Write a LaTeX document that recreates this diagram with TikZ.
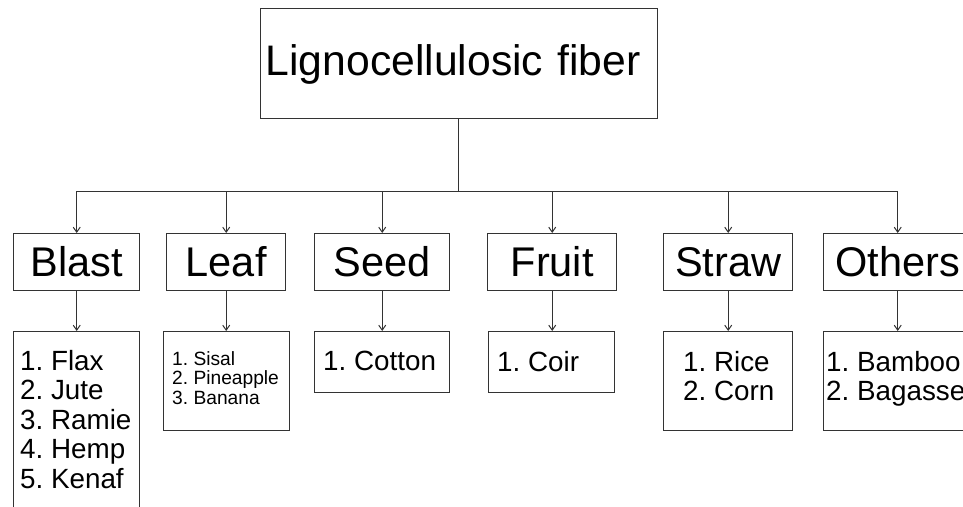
\documentclass[tikz,border=0pt]{standalone}
\usepackage{fontspec}
\setmainfont{Liberation Sans}
\usetikzlibrary{arrows.meta}
\frenchspacing
\definecolor{linegray}{HTML}{333333}
\tikzset{
  x=1pt, y=-1pt,
  box/.style={draw=linegray, line width=1.4pt, rectangle, inner sep=0pt, anchor=north west},
  cattext/.style={font=\fontsize{41.5}{46}\selectfont, text height=28.5pt, text depth=0pt},
  listtext/.style={font=\fontsize{27.8}{29.5}\selectfont, align=left, inner sep=0pt, anchor=north west},
  smalllist/.style={font=\fontsize{19.2}{19.8}\selectfont, align=left, inner sep=0pt, anchor=north west},
  link/.style={draw=linegray, line width=1pt},
  arrowlink/.style={link, -{Straight Barb[length=5pt,width=7pt]}},
}
\begin{document}
\begin{tikzpicture}
\clip (0,0) rectangle (963,506);
\fill[white] (0,0) rectangle (963,506);

% root
\node[box, minimum width=397pt, minimum height=110pt, text width=387pt, align=left,
      inner xsep=5pt, text height=31pt, text depth=7pt,
      font=\fontsize{42.7}{48}\selectfont] (root) at (260,8) {Lignocellulosic fiber};

% categories
\node[box, cattext, minimum width=126pt, minimum height=57pt] (blast)  at (13,233)  {Blast};
\node[box, cattext, minimum width=119pt, minimum height=57pt] (leaf)   at (166,233) {Leaf};
\node[box, cattext, minimum width=135pt, minimum height=57pt] (seed)   at (314,233) {Seed};
\node[box, cattext, minimum width=129pt, minimum height=57pt] (fruit)  at (487,233) {Fruit};
\node[box, cattext, minimum width=129pt, minimum height=57pt] (straw)  at (663,233) {Straw};
\node[box, cattext, minimum width=148pt, minimum height=57pt] (others) at (823,233) {Others};

% member lists (frames)
\node[box, minimum width=126pt, minimum height=200pt] (blastlist)  at (13,331)  {};
\node[box, minimum width=126pt, minimum height=99pt]  (leaflist)   at (163,331) {};
\node[box, minimum width=135pt, minimum height=61pt]  (seedlist)   at (314,331) {};
\node[box, minimum width=126pt, minimum height=61pt]  (fruitlist)  at (488,331) {};
\node[box, minimum width=129pt, minimum height=99pt]  (strawlist)  at (663,331) {};
\node[box, minimum width=148pt, minimum height=99pt]  (otherslist) at (823,331) {};

% member lists (entries)
\node[listtext]  (blastitems)  at (20,350)  {1. Flax\\2. Jute\\3. Ramie\\4. Hemp\\5. Kenaf};
\node[smalllist] (leafitems)   at (172,351) {1. Sisal\\2. Pineapple\\3. Banana};
\node[listtext]  (seeditems)   at (323,351) {1. Cotton};
\node[listtext]  (fruititems)  at (497,351) {1. Coir};
\node[listtext]  (strawitems)  at (683,351) {1. Rice\\2. Corn};
\node[listtext]  (othersitems) at (826,351) {1. Bamboo\\2. Bagasse};

% trunk and bus
\coordinate (bus) at (458,191);
\draw[link] (root.south -| bus) -- (bus);
\draw[link] (blast.north |- bus) -- (others.north |- bus);

% branches to categories
\foreach \c in {blast,leaf,seed,fruit,straw,others}
  \draw[arrowlink] (\c.north |- bus) -- (\c.north);

% categories to member lists
\draw[arrowlink] (blast.south)  -- (blast.south |- blastlist.north);
\draw[arrowlink] (leaf.south)   -- (leaf.south |- leaflist.north);
\draw[arrowlink] (seed.south)   -- (seed.south |- seedlist.north);
\draw[arrowlink] (fruit.south)  -- (fruit.south |- fruitlist.north);
\draw[arrowlink] (straw.south)  -- (straw.south |- strawlist.north);
\draw[arrowlink] (others.south) -- (others.south |- otherslist.north);
\end{tikzpicture}
\end{document}
